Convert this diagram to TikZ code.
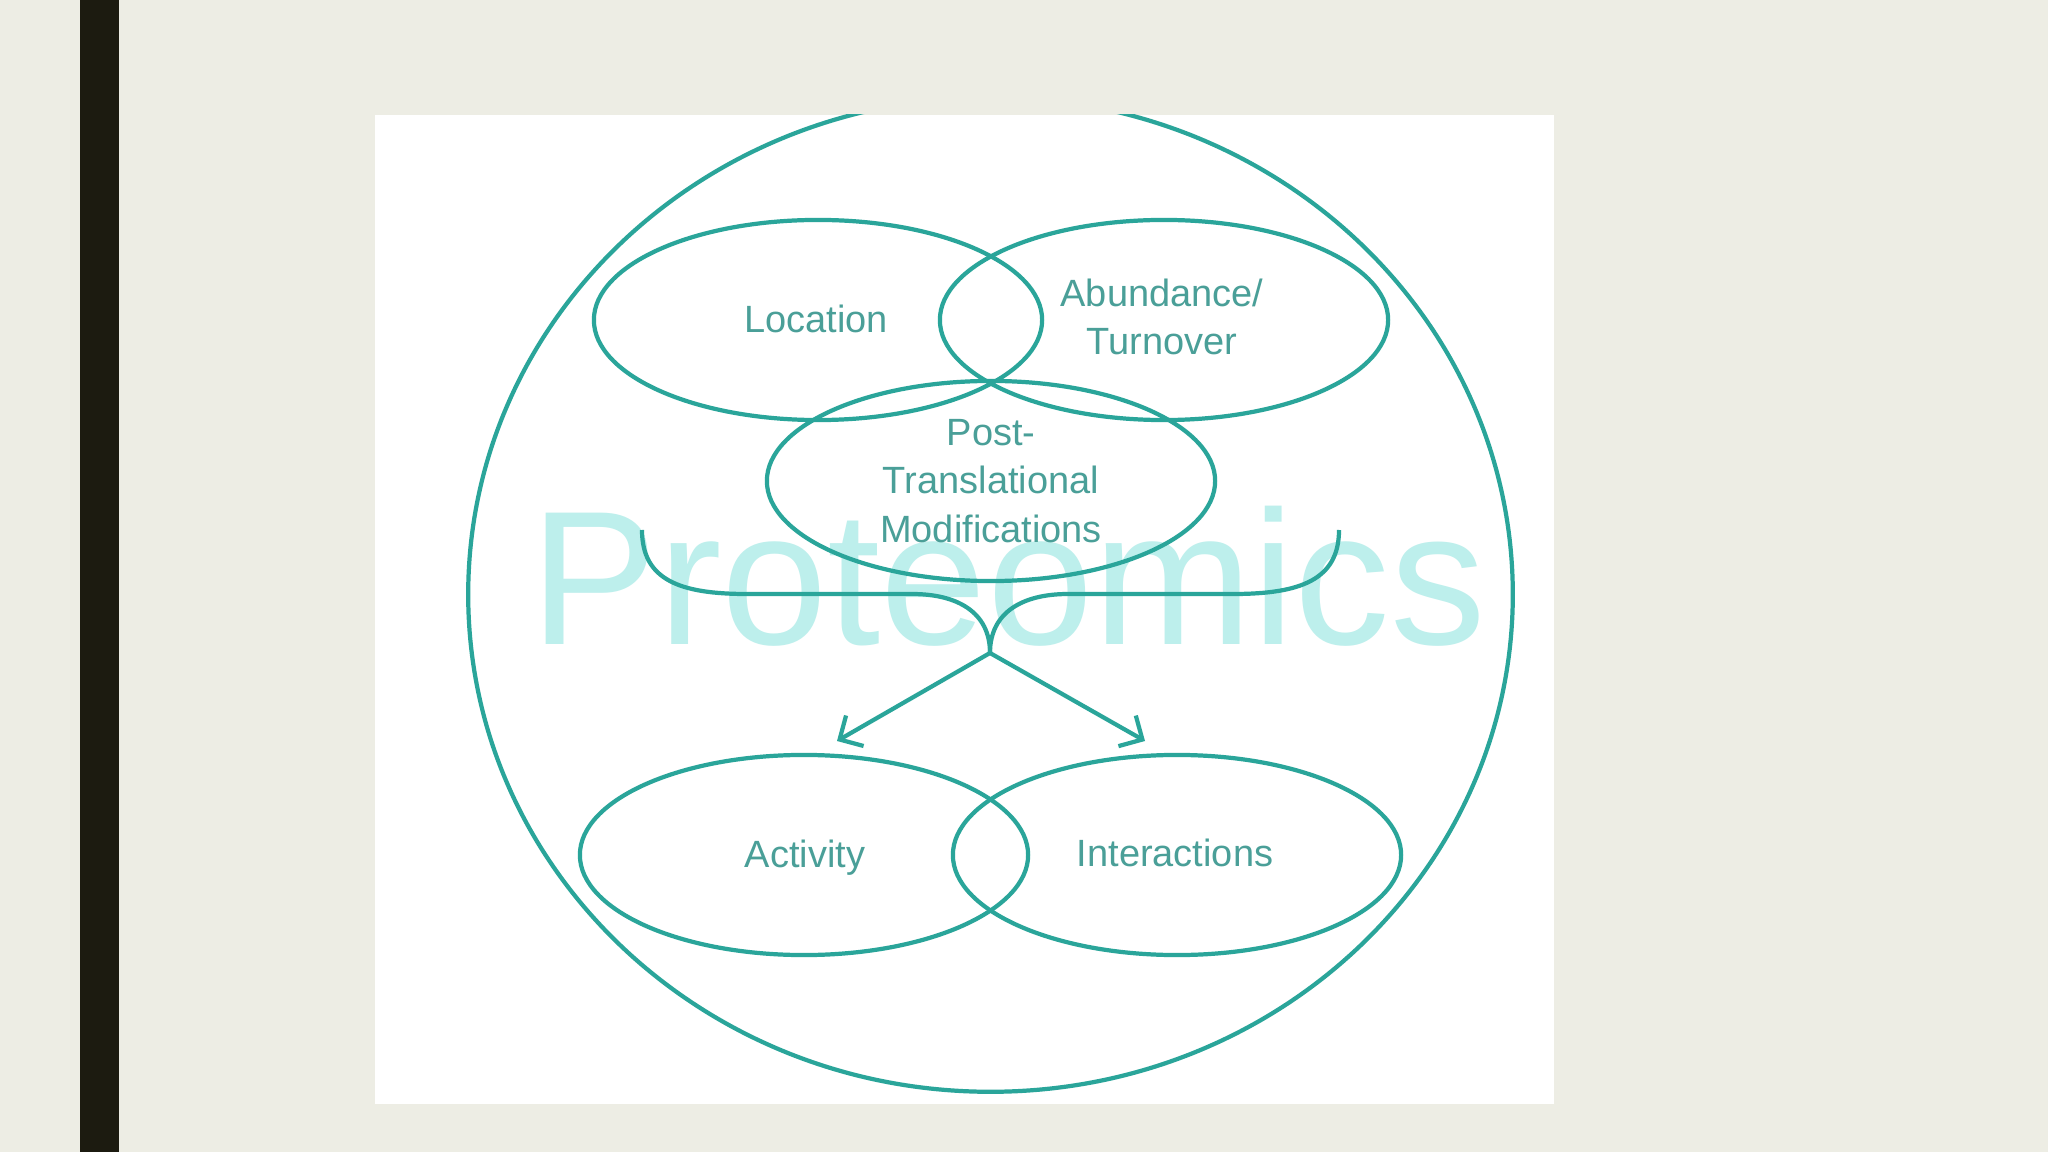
\documentclass[tikz,border=0pt]{standalone}
\usepackage{fontspec}
\setmainfont{Liberation Sans}
\usetikzlibrary{shapes.geometric,arrows.meta}
\definecolor{bgc}{HTML}{EDEDE4}
\definecolor{barc}{HTML}{1C1B10}
\definecolor{linec}{HTML}{2AA59A}
\definecolor{textc}{HTML}{4A9F98}
\definecolor{wmc}{HTML}{BDEFEC}
\begin{document}
\begin{tikzpicture}[x=0.01cm,y=-0.01cm,
  ell/.style={draw=linec, line width=1.2pt, ellipse, minimum width=4.48cm, minimum height=2cm, inner sep=0pt},
  lbl/.style={text=textc, font=\fontsize{10.8}{13.7}\selectfont, align=center, inner sep=0pt},
  wm/.style={text=wmc, font=\fontsize{54.3}{60}\selectfont, inner sep=0pt},
  conn/.style={draw=linec, line width=1.2pt},
  arr/.style={conn, -{Straight Barb[length=5pt,width=10pt]}}]
\fill[bgc] (0,0) rectangle (2048,1152);
\useasboundingbox (0,0) rectangle (2048,1152);
\fill[barc] (80,0) rectangle (119,1152);
\fill[white] (375,115) rectangle (1554,1104);
\node[wm, anchor=base west] (wm) at (530,645) {Proteomics};
\begin{scope}
\clip (375,115) rectangle (1554,1104);
\node[ell, minimum width=10.44cm, minimum height=9.94cm] (outer) at (990.5,594.5) {};
\end{scope}
\node[ell] (loc) at (818,320) {};
\node[ell] (abd) at (1164,320) {};
\node[ell] (ptm) at (991,481) {};
\node[ell] (act) at (804,855) {};
\node[ell] (int) at (1177,855) {};
\node[lbl, anchor=base] (tloc) at (816,333) {Location};
\node[lbl] (tabd) at (1162,317) {Abundance/\\Turnover};
\node[lbl] (tptm) at (991,481) {Post-\\Translational\\Modifications};
\node[lbl, anchor=base] (tact) at (805,867) {Activity};
\node[lbl, anchor=base] (tint) at (1175,866) {Interactions};
\coordinate (bl) at (642,530);
\coordinate (br) at (1339,530);
\coordinate (tip) at (990,653);
\coordinate (la) at (837,741);
\coordinate (ra) at (1145,741);
\draw[conn] (bl) .. controls (642,580) and (680,594) .. (747,594) -- (912,594)
  .. controls (957,594) and (990,612) .. (tip);
\draw[conn] (tip) .. controls (990,612) and (1023,594) .. (1068,594) -- (1233,594)
  .. controls (1300,594) and (1339,580) .. (br);
\draw[arr] (tip) -- (la);
\draw[arr] (tip) -- (ra);
\end{tikzpicture}
\end{document}
